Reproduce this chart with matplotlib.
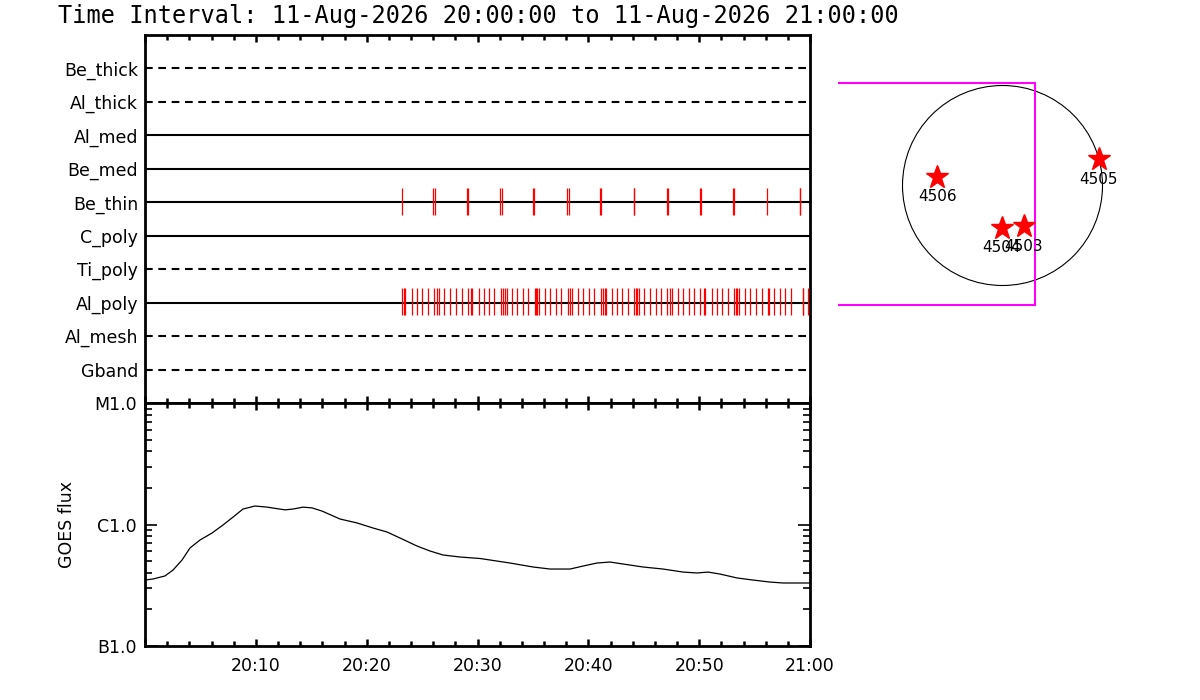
import matplotlib
matplotlib.use("Agg")
import matplotlib.pyplot as plt
from matplotlib.patches import Circle, Rectangle
from matplotlib.ticker import FixedLocator, LogLocator, NullFormatter

plt.rcParams['font.family'] = ['DejaVu Sans']

# ---------------- data ----------------
title = "Time Interval: 11-Aug-2026 20:00:00 to 11-Aug-2026 21:00:00"

detectors = ["Be_thick", "Al_thick", "Al_med", "Be_med", "Be_thin",
             "C_poly", "Ti_poly", "Al_poly", "Al_mesh", "Gband"]
detector_dashed = [True, True, False, False, False,
                   False, True, False, True, True]

# event times (minutes after 20:00)
be_thin_times = [23.22, 26.01, 26.17, 29.03, 29.17, 32.03, 32.18, 35.05, 35.14,
                 38.10, 38.23, 41.03, 41.14, 44.08, 44.16, 47.10, 47.22, 50.08,
                 50.20, 53.08, 53.16, 56.09, 59.06, 59.14]
al_poly_times = [23.16, 23.40, 23.49, 24.06, 24.51, 25.02, 25.51, 26.10, 26.37,
                 26.55, 27.00, 27.55, 28.06, 28.57, 29.12, 29.39, 29.53, 30.11,
                 30.56, 31.04, 31.52, 32.12, 32.33, 32.45, 32.64, 33.09, 33.59,
                 34.08, 34.58, 35.16, 35.28, 35.40, 35.58, 36.09, 36.57, 37.06,
                 37.56, 38.14, 38.35, 38.55, 39.09, 39.55, 40.06, 40.54, 41.12,
                 41.35, 41.48, 41.57, 42.11, 42.56, 43.07, 43.61, 44.15, 44.33,
                 44.42, 44.60, 45.05, 45.56, 46.08, 46.56, 47.12, 47.37, 47.58,
                 48.06, 48.57, 49.08, 49.56, 50.08, 50.41, 50.56, 51.13, 51.58,
                 52.09, 52.63, 53.17, 53.30, 53.44, 53.62, 54.14, 54.59, 55.10,
                 55.64, 56.21, 56.30, 56.78, 57.29, 57.74, 58.29, 59.34, 59.40,
                 59.79]

goes_time = [0.0, 0.72, 1.80, 2.53, 3.34, 4.06, 4.96, 6.05, 7.04, 7.94, 8.84,
             9.92, 11.01, 12.63, 13.35, 14.26, 15.07, 15.97, 17.59, 19.13,
             20.57, 21.84, 23.01, 24.54, 25.72, 26.89, 28.42, 30.23, 32.93,
             35.01, 36.54, 38.35, 39.52, 40.78, 41.96, 43.13, 44.93, 46.74,
             48.55, 49.81, 50.80, 51.88, 53.42, 54.86, 56.39, 57.57, 59.37, 60.0]
goes_flux = [3.49e-7, 3.56e-7, 3.77e-7, 4.22e-7, 5.10e-7, 6.41e-7, 7.45e-7,
             8.51e-7, 9.91e-7, 1.15e-6, 1.34e-6, 1.42e-6, 1.39e-6, 1.32e-6,
             1.34e-6, 1.39e-6, 1.37e-6, 1.29e-6, 1.11e-6, 1.03e-6, 9.36e-7,
             8.67e-7, 7.74e-7, 6.65e-7, 6.05e-7, 5.61e-7, 5.40e-7, 5.25e-7,
             4.82e-7, 4.47e-7, 4.30e-7, 4.30e-7, 4.55e-7, 4.82e-7, 4.91e-7,
             4.73e-7, 4.47e-7, 4.30e-7, 4.06e-7, 3.99e-7, 4.06e-7, 3.91e-7,
             3.63e-7, 3.49e-7, 3.36e-7, 3.30e-7, 3.30e-7, 3.30e-7]

time_ticks = [0, 10, 20, 30, 40, 50, 60]
time_labels = ["", "20:10", "20:20", "20:30", "20:40", "20:50", "21:00"]
goes_ticks = [1e-7, 1e-6, 1e-5]
goes_labels = ["B1.0", "C1.0", "M1.0"]

# solar map (arcsec)
sun_radius = 950
ar_names = ["4503", "4504", "4505", "4506"]
ar_x = [201, -5, 914, -619]
ar_y = [-388, -401, 249, 84]
fov_x = [-2000, 306]
fov_y = [-1138, 971]

# ---------------- figure ----------------
W, H = 1200, 700
fig = plt.figure(figsize=(12, 7), dpi=100)


def px_axes(l, t, r, b):
    return fig.add_axes([l / W, 1 - b / H, (r - l) / W, (b - t) / H])


ax_top = px_axes(145, 35, 810, 403)
ax_bot = px_axes(145, 403, 810, 646)
ax_map = px_axes(838, 30, 1160, 340)

fig.text(58 / W, 1 - 16 / H, title, ha="left", va="center", fontsize=17,
         family=["DejaVu Sans Mono"])

frame_lw = 2.0

# top panel
for i, (name, dashed) in enumerate(zip(detectors, detector_dashed)):
    ax_top.axhline(i + 1, color="black", lw=1.5,
                   ls=(0, (3.7, 2.7)) if dashed else "-", zorder=2)
ax_top.vlines(be_thin_times, 5 - 0.42, 5 + 0.38, color="red", lw=0.9, zorder=3)
ax_top.vlines(al_poly_times, 8 - 0.45, 8 + 0.38, color="red", lw=0.9, zorder=3)
ax_top.set_ylim(11, 0)
ax_top.set_xlim(0, 60)
ax_top.set_yticks(range(1, 11))
ax_top.set_yticklabels(detectors, fontsize=12.5)
ax_top.tick_params(axis="y", length=0, pad=5)
ax_top.set_xticks(time_ticks)
ax_top.xaxis.set_minor_locator(FixedLocator(range(0, 61, 2)))
ax_top.tick_params(axis="x", which="both", direction="in", top=True,
                   bottom=True, labelbottom=False, width=1.8)
ax_top.tick_params(axis="x", which="major", length=5)
ax_top.tick_params(axis="x", which="minor", length=3.5)
for s in ax_top.spines.values():
    s.set_linewidth(frame_lw)

# bottom panel
ax_bot.plot(goes_time, goes_flux, color="black", lw=0.9)
ax_bot.set_yscale("log")
ax_bot.set_ylim(1e-7, 1e-5)
ax_bot.set_xlim(0, 60)
ax_bot.set_yticks(goes_ticks)
ax_bot.set_yticklabels(goes_labels, fontsize=12.5)
ax_bot.yaxis.set_minor_locator(LogLocator(base=10, subs=range(2, 10)))
ax_bot.yaxis.set_minor_formatter(NullFormatter())
ax_bot.tick_params(axis="y", which="both", direction="in", left=True,
                   right=True, width=1.2, pad=6)
ax_bot.tick_params(axis="y", which="major", length=8.5)
ax_bot.tick_params(axis="y", which="minor", length=5)
ax_bot.set_xticks(time_ticks)
ax_bot.set_xticklabels(time_labels, fontsize=12.5)
ax_bot.xaxis.set_minor_locator(FixedLocator(range(0, 61, 2)))
ax_bot.tick_params(axis="x", which="both", direction="in", top=True,
                   bottom=True, width=1.8, pad=8)
ax_bot.tick_params(axis="x", which="major", length=5)
ax_bot.tick_params(axis="x", which="minor", length=3.5)
ax_bot.set_ylabel("GOES flux", fontsize=12.5, va="center")
ax_bot.yaxis.set_label_coords((67 - 145) / 665, 0.5)
for s in ax_bot.spines.values():
    s.set_linewidth(frame_lw)

# solar map
scale = 9.5  # arcsec per pixel
cx, cy = 1002.5, 185.5
ax_map.set_xlim((838 - cx) * scale, (1160 - cx) * scale)
ax_map.set_ylim((cy - 340) * scale, (cy - 30) * scale)
ax_map.axis("off")
ax_map.add_patch(Circle((0, 0), sun_radius, fill=False, color="black", lw=0.8))
ax_map.add_patch(Rectangle((fov_x[0], fov_y[0]), fov_x[1] - fov_x[0],
                           fov_y[1] - fov_y[0], fill=False,
                           edgecolor="#FF00FF", lw=1.5))
ax_map.plot(ar_x, ar_y, ls="none", marker="*", ms=17, color="red", mec="red")
for n, x, y in zip(ar_names, ar_x, ar_y):
    ax_map.text(x, y - 190, n, ha="center", va="center", fontsize=11)

fig.savefig("out.png", dpi=100)
